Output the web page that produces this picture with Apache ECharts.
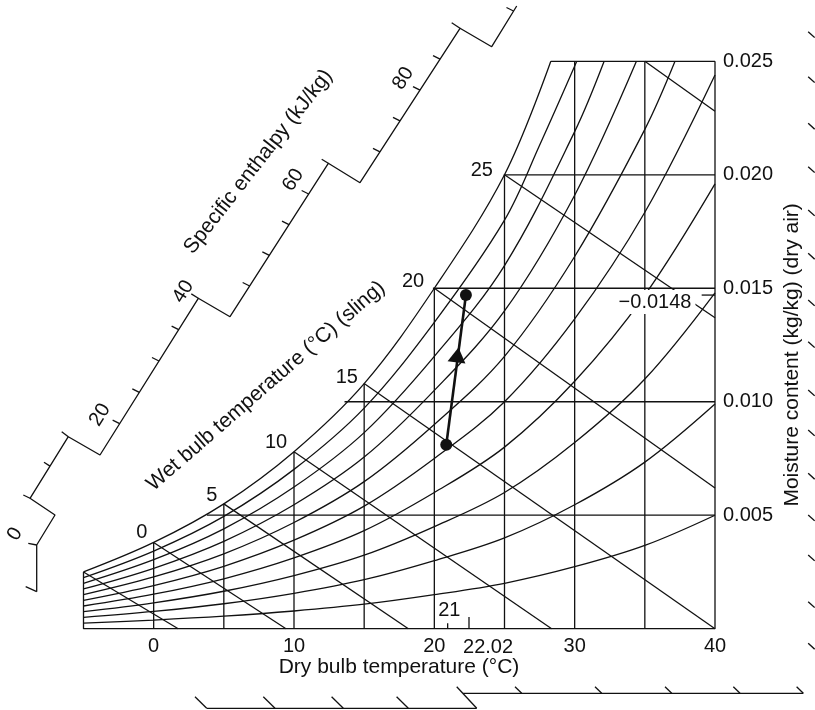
<!DOCTYPE html>
<html><head><meta charset="utf-8">
<script src="https://cdn.jsdelivr.net/npm/echarts@6/dist/echarts.min.js"></script>
<style>html,body{margin:0;padding:0;background:#fff}#c{width:815px;height:710px}</style>
</head><body><div id="c"></div><script>
// ---------- data ----------
const dryBulbLabels = [0, 10, 20, 30, 40];
const moistureLabels = [0.005, 0.010, 0.015, 0.020, 0.025];

// percentage-saturation curves (dry bulb °C, moisture kg/kg)
const rh100 = [[-5,0.0025],[0,0.0038],[5,0.0055],[10,0.0078],[15,0.0108],[20,0.0150],[25,0.0200],[28.3,0.0250]];
const rh90 = [[-5,0.00225],[0,0.00342],[5,0.00495],[10,0.00702],[15,0.00972],[20,0.0135],[25,0.0180],[27.5,0.0213],[30.15,0.0250]];
const rh80 = [[-5,0.0020],[0,0.00304],[5,0.0044],[10,0.00624],[15,0.00864],[20,0.0120],[25,0.0160],[30,0.0219],[32.1,0.0250]];
const rh70 = [[-5,0.00175],[0,0.00266],[5,0.00385],[10,0.00546],[15,0.00756],[20,0.0105],[25,0.0140],[30,0.0191],[34.4,0.0250]];
const rh60 = [[-5,0.0015],[0,0.00228],[5,0.0033],[10,0.00468],[15,0.00648],[20,0.0090],[25,0.0120],[30,0.0164],[35,0.0220],[37.15,0.0250]];
const rh50 = [[-5,0.00125],[0,0.0019],[5,0.00275],[10,0.0039],[15,0.0054],[20,0.0075],[25,0.0100],[30,0.01365],[35,0.01835],[40,0.0244]];
const rh40 = [[-5,0.0010],[0,0.00152],[5,0.0022],[10,0.00312],[15,0.00432],[20,0.0060],[25,0.0080],[30,0.0109],[35,0.0147],[40,0.0196]];
const rh30 = [[-5,0.00075],[0,0.00114],[5,0.00165],[10,0.00234],[15,0.00324],[20,0.0045],[25,0.0060],[30,0.0082],[35,0.0110],[40,0.0148]];
const rh20 = [[-5,0.0005],[0,0.00076],[5,0.0011],[10,0.00156],[15,0.00216],[20,0.0030],[25,0.0040],[30,0.00546],[35,0.00734],[40,0.0099]];
const rh10 = [[-5,0.00025],[0,0.00038],[5,0.00055],[10,0.00078],[15,0.00108],[20,0.0015],[25,0.0020],[30,0.00273],[35,0.00367],[40,0.0050]];

// wet bulb lines: start on saturation, end on chart edge
const wetBulbLines = [
  [[-5,0.0025],[1.75,0]],
  [[0,0.0038],[9.43,0]],
  [[5,0.0055],[18.15,0]],
  [[10,0.0078],[28.36,0]],
  [[15,0.0108],[40,0]],
  [[20,0.0150],[40,0.0062]],
  [[25,0.0200],[40,0.0137]],
  [[35,0.0250],[40,0.0228]]
];
const wetBulbLabels = [
  ['0',[-0.85,0.00423]],['5',[4.14,0.00585]],['10',[8.72,0.0082]],
  ['15',[13.76,0.01105]],['20',[18.48,0.01529]],['25',[23.38,0.02021]]
];

// grid lines of the chart
const dryBulbGrid = [[0,0.0038],[5,0.0055],[10,0.0078],[15,0.0108],[20,0.0150],[25,0.0200],[30,0.025],[35,0.025]];
const moistureGrid = [[3.8,0.005],[13.6,0.010],[19.9,0.015],[24.95,0.020],[28.3,0.025]];

// process
const state1 = [20.85, 0.0081];
const state2 = [22.25, 0.0147];
const arrowAt = [21.65, 0.01206];
const tick21 = 20.95, tick2202 = 22.47, tick0148 = 0.0147;

// specific enthalpy scale (stepped), in chart coordinates
const enthalpyPath = [[-8.335,0.00163],[-8.335,0.003688],[-7.031,0.00501],[-8.812,0.005746],[-6.083,0.00846],[-3.824,0.007653],[3.181,0.014558],[5.44,0.013747],[12.445,0.020506],[14.703,0.019651],[21.83,0.026454],[24.089,0.025643],[25.87,0.027437]];
const enthalpyTicks = [
  [[-8.335,0.00163],[-9.119,0.00185]],
  [[-8.335,0.003688],[-8.934,0.003763]],
  [[-8.812,0.005746],[-9.29,0.005891]],
  [[-7.387,0.007164],[-7.815,0.007332]],
  [[-6.083,0.00846],[-6.553,0.00868]],
  [[-2.423,0.009034],[-2.922,0.009188]],
  [[-1.022,0.010415],[-1.521,0.010569]],
  [[0.379,0.011796],[-0.120,0.01195]],
  [[1.780,0.013177],[1.281,0.013331]],
  [[3.181,0.014558],[2.682,0.014752]],
  [[6.841,0.015099],[6.342,0.015253]],
  [[8.242,0.016451],[7.743,0.016605]],
  [[9.643,0.017802],[9.144,0.017956]],
  [[11.044,0.019154],[10.545,0.019308]],
  [[12.445,0.020506],[11.974,0.020682]],
  [[16.128,0.021012],[15.629,0.021166]],
  [[17.554,0.022372],[17.055,0.022526]],
  [[18.979,0.023733],[18.48,0.023887]],
  [[20.405,0.025093],[19.906,0.025247]],
  [[21.83,0.026454],[21.238,0.026701]],
  [[25.64,0.027217],[25.141,0.027371]]
];
const enthalpyLabels = [['0',[-9.88,0.00417]],['20',[-3.82,0.00942]],['40',[2.11,0.01485]],['60',[9.95,0.01977]],['80',[17.79,0.02425]]];

// outer scale marks (right column and bottom)
const rightScaleMarks = [0.026304,0.024322,0.022268,0.020356,0.018448,0.01654,0.014483,0.012645,0.010517,0.008755,0.006847,0.00501,0.003247,0.00119,-0.000643];
const lowerScaleMarks = [3.779, 8.646, 13.513, 18.145];
const upperScaleMarks = [26.226, 31.927, 36.916, 41.783, 46.293];

// ---------- chart ----------
const INK = '#111111';
const FONT = "'Liberation Sans', Arial, Helvetica, sans-serif";
const W = 815, H = 710;
// plot geometry: -5..40 °C over 631.5 px, 0..0.025 over 567.4 px
const G = { left: 83.5, right: 100, top: 61.3, bottom: 81.3 };
const PX_T = (W - G.left - G.right) / 45, PX_W = (H - G.top - G.bottom) / 0.025;
// hidden full-canvas coordinate system with identical scale, for marks outside the plot frame
const EXT = {
  tMin: -5 - G.left / PX_T, tMax: 40 + G.right / PX_T,
  wMin: -G.bottom / PX_W, wMax: 0.025 + G.top / PX_W
};

const series = [];
const onExt = { xAxisIndex: 1, yAxisIndex: 1 };
function addLine(pts, extra) {
  series.push(Object.assign({
    type: 'line', data: pts, symbol: 'none', clip: false, silent: true,
    lineStyle: { color: INK, width: 1.3 }, z: 2, animation: false
  }, onExt, extra || {}));
}
// frame
addLine([[-5,0.0025],[-5,0],[40,0],[40,0.025]]);
dryBulbGrid.forEach(p => addLine([[p[0],0], p]));
moistureGrid.forEach(p => addLine([p, [40,p[1]]]));
// curves
[rh100,rh90,rh80,rh70,rh60,rh50,rh40,rh30,rh20,rh10].forEach(c =>
  addLine(c, { smooth: 0.35 }));
wetBulbLines.forEach(l => addLine(l));
// enthalpy scale
addLine(enthalpyPath);
enthalpyTicks.forEach(t => addLine(t));
// right marks
rightScaleMarks.forEach(w => addLine([[46.64,w],[47.1,w-0.000258]]));
// bottom marks
addLine([[3.779,-0.003507],[23.02,-0.003507]]);
lowerScaleMarks.forEach(t => addLine([[t-0.834,-0.002996],[t,-0.003507]]));
addLine([[21.595,-0.002556],[23.02,-0.003507]]);
addLine([[22.044,-0.002846],[46.293,-0.002846]]);
upperScaleMarks.forEach(t => addLine([[t-0.477,-0.002556],[t,-0.002846]]));
// small ticks
addLine([[tick21,0],[tick21,0.00024]]);
addLine([[tick2202,0],[tick2202,0.000516]]);
addLine([[39.05,tick0148],[40,tick0148]]);
// process line
addLine([state1, state2], { lineStyle: { color: INK, width: 2.6 }, z: 5 });
series.push(Object.assign({ type: 'scatter', data: [state1, state2], symbol: 'circle', symbolSize: 12,
  itemStyle: { color: INK, opacity: 1 }, z: 6, clip: false, silent: true, animation: false }, onExt));
series.push(Object.assign({ type: 'scatter', data: [arrowAt], symbol: 'triangle', symbolSize: [18, 15],
  symbolRotate: -7.6, itemStyle: { color: INK, opacity: 1 }, z: 6, clip: false, silent: true, animation: false }, onExt));

// annotations
const ann = [];
function txt(text, pos, size, rotate, extra) {
  ann.push({ value: pos, label: Object.assign({ show: true, formatter: text, fontSize: size,
    rotate: rotate || 0, color: INK, opacity: 1, fontFamily: FONT, position: 'inside' }, extra || {}) });
}
wetBulbLabels.forEach(l => txt(l[0], l[1], 20));
enthalpyLabels.forEach(l => txt(l[0], l[1], 20, 58));
txt('Specific enthalpy (kJ/kg)', [7.456, 0.020577], 21, 52);
txt('Wet bulb temperature (°C) (sling)', [8.005, 0.010694], 21, 41);
txt('Dry bulb temperature (°C)', [17.483, -0.001718], 21, 0);
txt('Moisture content (kg/kg) (dry air)', [45.467, 0.012064], 21, 90);
txt('21', [21.067, 0.000824], 20);
txt('22.02', [23.83, -0.000806], 20);
txt('\u22120.0148', [35.726, 0.014395], 20, 0, { backgroundColor: '#fff', padding: [4, 4, 0, 4] });
series.push(Object.assign({ type: 'scatter', data: ann, symbolSize: 1,
  itemStyle: { color: 'rgba(0,0,0,0)', opacity: 1 },
  z: 8, clip: false, silent: true, animation: false }, onExt));

const hiddenAxis = { show: false, axisLine: { show: false }, axisTick: { show: false },
  axisLabel: { show: false }, splitLine: { show: false } };

const chart = echarts.init(document.getElementById('c'), null, { renderer: 'canvas' });
chart.setOption({
  backgroundColor: '#fff',
  animation: false,
  grid: [
    Object.assign({ containLabel: false }, G),
    { left: 0, right: 0, top: 0, bottom: 0, containLabel: false }
  ],
  xAxis: [
    { type: 'value', gridIndex: 0, min: -5, max: 40, interval: 5,
      axisLine: { show: false }, axisTick: { show: false }, splitLine: { show: false },
      axisLabel: { margin: 8, fontSize: 20, color: INK, fontFamily: FONT, showMinLabel: true, showMaxLabel: true,
        formatter: v => dryBulbLabels.indexOf(v) >= 0 ? String(v) : '' } },
    Object.assign({ type: 'value', gridIndex: 1, min: EXT.tMin, max: EXT.tMax }, hiddenAxis)
  ],
  yAxis: [
    { type: 'value', gridIndex: 0, min: 0, max: 0.025, interval: 0.005, position: 'right',
      axisLine: { show: false }, axisTick: { show: false }, splitLine: { show: false },
      axisLabel: { margin: 8, fontSize: 20, color: INK, fontFamily: FONT,
        formatter: v => moistureLabels.some(m => Math.abs(m - v) < 1e-9) ? v.toFixed(3) : '' } },
    Object.assign({ type: 'value', gridIndex: 1, min: EXT.wMin, max: EXT.wMax }, hiddenAxis)
  ],
  series: series
});
</script></body></html>
